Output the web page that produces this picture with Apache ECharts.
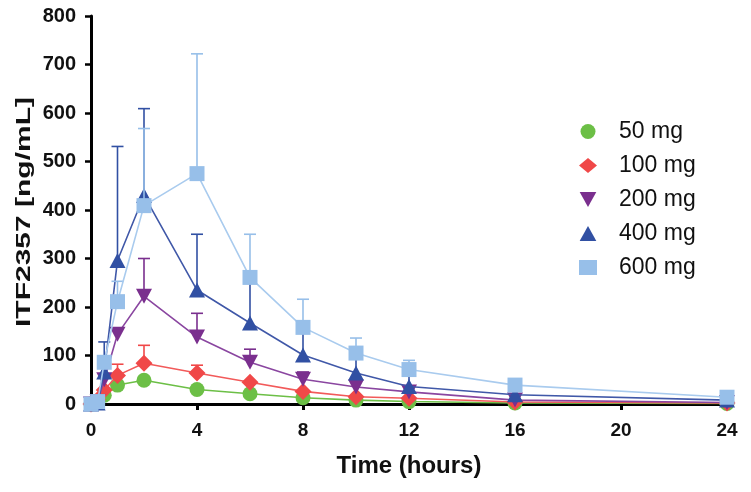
<!DOCTYPE html>
<html>
<head>
<meta charset="utf-8">
<script src="https://cdn.jsdelivr.net/npm/echarts@6/dist/echarts.min.js"></script>
<style>html,body{margin:0;padding:0;background:#fff;}#c{width:751px;height:492px;}</style>
</head>
<body>
<div id="c"></div>
<script>
const times = [0, 0.25, 0.5, 1, 2, 4, 6, 8, 10, 12, 16, 24];
const xTicks = [0, 4, 8, 12, 16, 20, 24];
const seriesNames = ['50 mg', '100 mg', '200 mg', '400 mg', '600 mg'];
const conc50  = [0, 5, 18, 39, 49, 30, 21, 13, 8, 5, 2, 1];
const conc100 = [0, 9, 29, 59, 84, 64, 45, 26, 15, 12, 4, 2];
const conc200 = [0, 5, 50, 144, 222, 138, 86, 51, 35, 25, 8, 3];
const conc400 = [0, 2, 66, 296, 430, 235, 167, 101, 64, 36, 19, 8];
const conc600 = [0, 5, 86, 211, 409, 475, 261, 158, 105, 71, 39, 14];
// upper end of error bars (null = none visible)
const err50  = [null, null, null, null, null, null, null, null, null, null, null, null];
const err100 = [null, null, null, 82, 121, 80, null, null, null, null, null, null];
const err200 = [null, null, null, null, 300, 187, 113, 66, null, null, null, null];
const err400 = [null, null, 128, 531, 609, 350, 262, 155, 102, 68, null, null];
const err600 = [null, null, null, 253, 568, 722, 350, 216, 136, 90, null, null];

const colors = ['#6cbf46', '#f04848', '#7a2f8e', '#3150a3', '#97bfe9'];
const lineColors = ['#6cbf46', '#f25a5a', '#8a46a0', '#4058a8', '#a9cbee'];
const symbols = ['circle', 'diamond', 'path://M0,0 L10,0 L5,9 Z', 'path://M5,0 L10,9 L0,9 Z', 'rect'];
const symSizes = [15, 17, [16, 15], [16, 15], 15];
const concs = [conc50, conc100, conc200, conc400, conc600];
const errs = [err50, err100, err200, err400, err600];

const series = [];
for (let i = 0; i < 5; i++) {
  const errData = [];
  times.forEach((t, k) => { if (errs[i][k] != null) errData.push([t, concs[i][k], errs[i][k]]); });
  const col = colors[i];
  series.push({
    name: seriesNames[i] + ' err',
    type: 'custom',
    z: 2 + i * 2,
    data: errData,
    renderItem: function (params, api) {
      const p0 = api.coord([api.value(0), api.value(1)]);
      const p1 = api.coord([api.value(0), api.value(2)]);
      const st = { stroke: col, lineWidth: 1.6 };
      return { type: 'group', children: [
        { type: 'line', shape: { x1: p0[0], y1: p0[1], x2: p1[0], y2: p1[1] }, style: st },
        { type: 'line', shape: { x1: p1[0] - 6, y1: p1[1], x2: p1[0] + 6, y2: p1[1] }, style: st }
      ]};
    }
  });
  series.push({
    name: seriesNames[i],
    type: 'line',
    z: 3 + i * 2,
    data: times.map((t, k) => [t, concs[i][k]]),
    symbol: symbols[i],
    symbolSize: symSizes[i],
    lineStyle: { color: lineColors[i], width: 1.6 },
    itemStyle: { color: col, opacity: 1 },
    emphasis: { disabled: true },
    animation: false
  });
}

const chart = echarts.init(document.getElementById('c'));
chart.setOption({
  animation: false,
  backgroundColor: '#fff',
  grid: { left: 91, right: 24, top: 16, bottom: 88, containLabel: false },
  graphic: [{
    type: 'text',
    x: 24, y: 212,
    rotation: Math.PI / 2,
    scaleX: 1.5,
    style: { text: 'ITF2357 [ng/mL]', font: 'bold 20px "Liberation Sans", Arial, sans-serif', fill: '#111',
      textAlign: 'center', textVerticalAlign: 'middle' }
  }],
  legend: {
    data: seriesNames.map((n, i) => ({ name: n, icon: symbols[i] })),
    orient: 'vertical',
    left: 574,
    top: 115,
    itemWidth: 18,
    itemHeight: 15,
    itemGap: 11,
    textStyle: { fontSize: 23, color: '#111', fontFamily: 'Liberation Sans, Arial, sans-serif', padding: [0, 0, 0, 17] }
  },
  xAxis: {
    type: 'value', min: 0, max: 24, interval: 4,
    name: 'Time (hours)', nameLocation: 'middle', nameGap: 50,
    nameTextStyle: { fontSize: 24, fontWeight: 'bold', color: '#111', fontFamily: 'Liberation Sans, Arial, sans-serif' },
    axisLine: { show: true, onZero: false, lineStyle: { color: '#000', width: 3 } },
    axisTick: { show: true, length: 6, lineStyle: { color: '#000', width: 3 } },
    axisLabel: { margin: 17, fontSize: 19, fontWeight: 'bold', color: '#111', fontFamily: 'Liberation Sans, Arial, sans-serif',
      customValues: xTicks },
    splitLine: { show: false }
  },
  yAxis: {
    type: 'value', min: 0, max: 800, interval: 100,
    axisLine: { show: true, lineStyle: { color: '#000', width: 3 } },
    axisTick: { show: true, length: 6, lineStyle: { color: '#000', width: 2.5 } },
    axisLabel: { margin: 15, fontSize: 20, fontWeight: 'bold', color: '#111', fontFamily: 'Liberation Sans, Arial, sans-serif' },
    splitLine: { show: false }
  },
  series: series
});
</script>
</body>
</html>
